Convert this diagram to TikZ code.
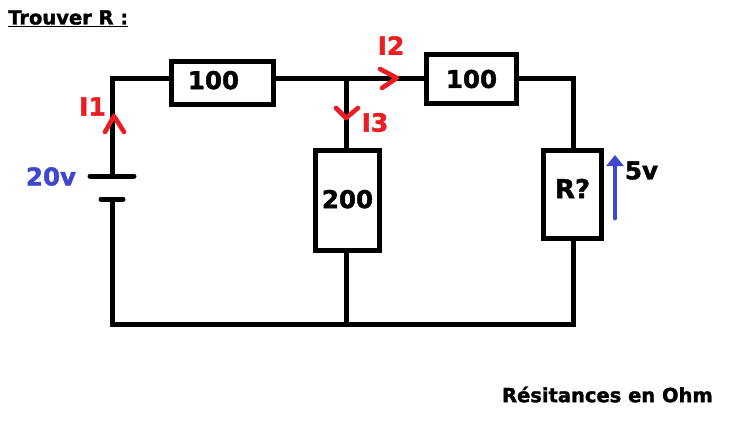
\documentclass[tikz,border=0pt]{standalone}
\usepackage{fontspec}
\setmainfont{DejaVu Sans}[BoldFeatures={FakeBold=1.6}]
\usetikzlibrary{arrows.meta}
\definecolor{cred}{HTML}{ED1C24}
\definecolor{cblue}{HTML}{3F48CC}
\tikzset{
  wire/.style={line width=5pt,black,line join=miter},
  plate/.style={line width=5pt,black,line cap=round},
  resist/.style={draw=black,line width=5pt,fill=white,inner sep=0pt,font=\fontsize{24.5}{25}\selectfont\bfseries},
  chevron/.style={line width=4.6pt,cred,line cap=round,line join=round},
  redlabel/.style={text=cred,inner sep=0pt,font=\fontsize{25}{25}\selectfont\bfseries},
  bluelabel/.style={text=cblue,inner sep=0pt,font=\fontsize{24.5}{25}\selectfont\bfseries},
  blacklabel/.style={text=black,inner sep=0pt,font=\fontsize{24.5}{25}\selectfont\bfseries},
  note/.style={text=black,inner sep=0pt,font=\fontsize{19.5}{20}\selectfont\bfseries},
}
\begin{document}
\begin{tikzpicture}[x=1pt,y=-1pt]
\useasboundingbox (0,0) rectangle (731,423);
\fill[white] (0,0) rectangle (731,423);
% corners and junctions
\coordinate (tl) at (112,78);
\coordinate (tr) at (573,78);
\coordinate (bl) at (112,324);
\coordinate (br) at (573,324);
\coordinate (jt) at (346,78);
\coordinate (jb) at (346,324);
\coordinate (platea) at (112,176);
\coordinate (plateb) at (112,199);
\coordinate (pal) at (90,176);
\coordinate (par) at (134,176);
\coordinate (pbl) at (101,199);
\coordinate (pbr) at (123,199);
% resistors
\node[resist,minimum width=102pt,minimum height=43pt] (r1) at (222.5,83) {\raisebox{6pt}{100\hspace{18pt}}};
\node[resist,minimum width=90pt,minimum height=49pt] (r2) at (471.5,79) {100};
\node[resist,minimum width=64pt,minimum height=100pt] (r3) at (347.5,200.5) {\raisebox{3pt}{200}};
\node[resist,minimum width=58pt,minimum height=88pt] (r4) at (572.5,194.5) {\raisebox{12pt}{\fontsize{26}{26}\selectfont R?}};
% wires
\draw[wire] (platea) -- (tl) -- (tl -| r1.west);
\draw[wire] (r1.east |- jt) -- (r2.west |- jt);
\draw[wire] (r2.east |- tr) -- (tr) -- (r4.north -| tr);
\draw[wire] (jt) -- (r3.north -| jt);
\draw[wire] (r3.south -| jb) -- (jb);
\draw[wire] (r4.south -| br) -- (br) -- (bl) -- (plateb);
% battery
\draw[plate] (pal) -- (par);
\draw[plate] (pbl) -- (pbr);
% current arrows
\coordinate (i1a) at (105,132);\coordinate (i1b) at (114,116);\coordinate (i1c) at (124,132);
\coordinate (i2a) at (380,69);\coordinate (i2b) at (397,78);\coordinate (i2c) at (382,88);
\coordinate (i3a) at (336,108);\coordinate (i3b) at (346,118);\coordinate (i3c) at (358,108);
\draw[chevron] (i1a) -- (i1b) -- (i1c);
\draw[chevron] (i2a) -- (i2b) -- (i2c);
\draw[chevron] (i3a) -- (i3b) -- (i3c);
% voltage arrow
\coordinate (va) at (615,218);
\coordinate (vb) at (615,155);
\draw[cblue,line width=4.8pt,line cap=round,-{Triangle[length=11pt,width=17pt]}] (va) -- (vb);
% labels
\node[redlabel] (li1) at (92.5,106.5) {I1};
\node[redlabel] (li2) at (391,45.5) {I2};
\node[redlabel] (li3) at (375,122.5) {I3};
\node[bluelabel] (l20) at (51,176.5) {20v};
\node[blacklabel] (l5) at (641.5,170.5) {5v};
\node[note,anchor=west] (title) at (8,18.5) {\underline{Trouver R :}};
\node[note,anchor=east] (legend) at (713,394.5) {Résitances en Ohm};
\end{tikzpicture}
\end{document}
